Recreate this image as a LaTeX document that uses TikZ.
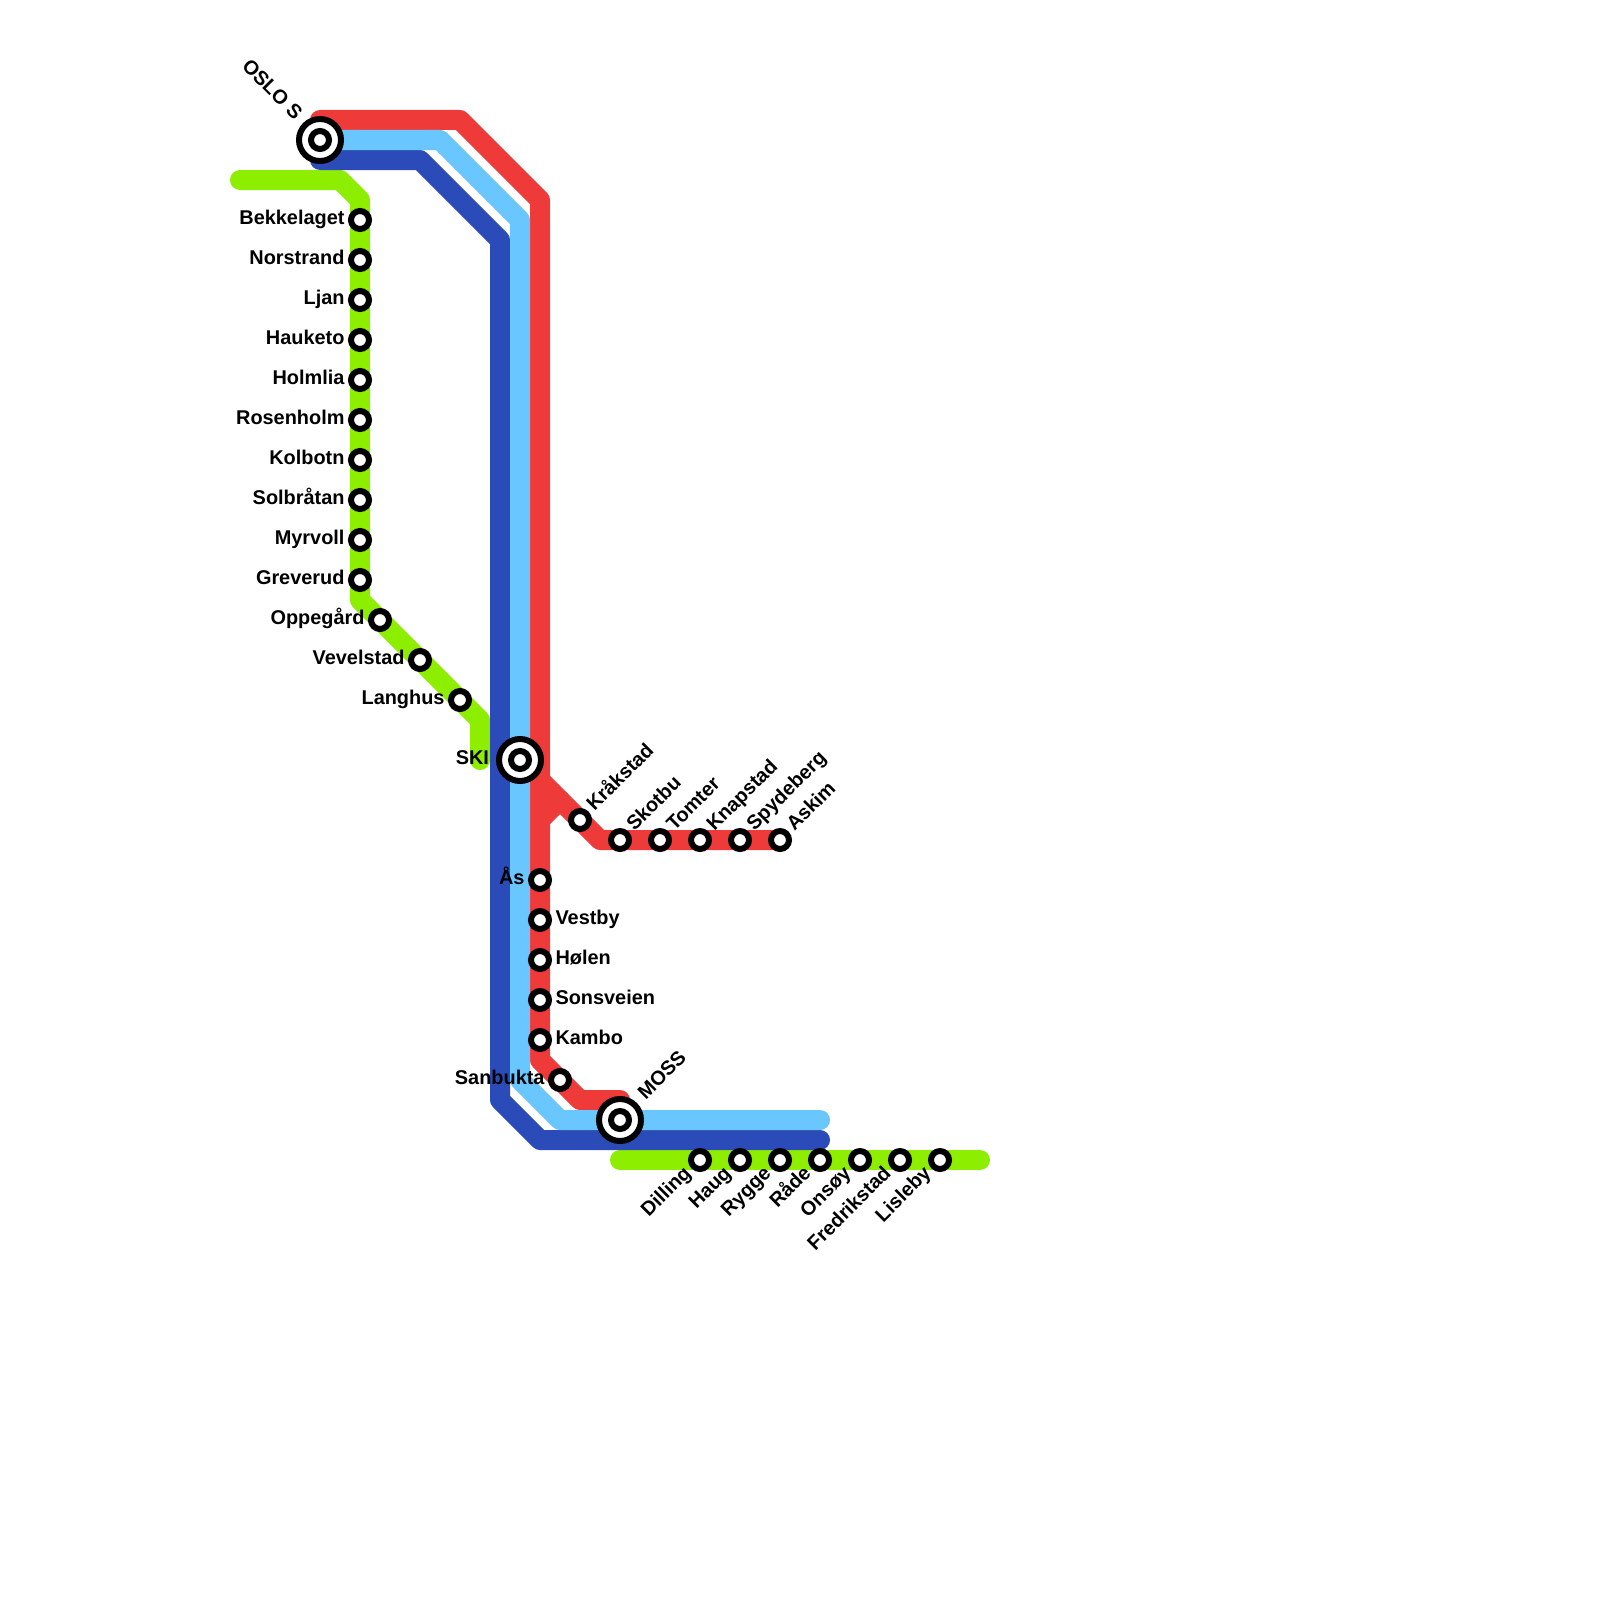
\documentclass[tikz,border=0pt]{standalone}
\usepackage{fontspec}
\setmainfont{Liberation Sans}[BoldFont={Liberation Sans Bold}]
\usetikzlibrary{backgrounds}
\definecolor{mred}{RGB}{239,58,58}
\definecolor{mcyan}{RGB}{105,198,255}
\definecolor{mblue}{RGB}{43,76,184}
\definecolor{mgreen}{RGB}{142,238,0}
\tikzset{
  metro/.style={line width=20pt,line cap=round,line join=round},
  stn/.style={circle,draw=black,fill=white,line width=6pt,minimum size=18pt,inner sep=0pt,outer sep=0pt},
  hub/.style={circle,draw=black,fill=white,line width=6pt,minimum size=42pt,inner sep=0pt,outer sep=0pt},
  lab/.style={font=\fontsize{19.9pt}{22pt}\selectfont\bfseries,inner sep=0pt,outer sep=0pt,text=black},
  labL/.style={lab,anchor=base east,xshift=-15.5pt,yshift=-4.7pt},
  labR/.style={lab,anchor=base west,xshift=15.5pt,yshift=-4.7pt},
  labUR/.style={lab,anchor=base west,xshift=14.5pt,yshift=8.1pt,rotate=45},
  labDL/.style={lab,anchor=base east,xshift=-8.1pt,yshift=-14.5pt,rotate=45},
}
\begin{document}
\begin{tikzpicture}[x=1pt,y=-1pt]
\useasboundingbox (0,0) rectangle (1600,1600);
% route bends
\coordinate (r0) at (320,120); \coordinate (r1) at (460,120); \coordinate (r2) at (540,200);
\coordinate (r3) at (540,1060); \coordinate (r4) at (580,1100); \coordinate (r5) at (620,1100);
\coordinate (r6) at (540,780); \coordinate (r7) at (600,840);
\coordinate (r8) at (540,820); \coordinate (r9) at (560,800);
\coordinate (c1) at (440,140); \coordinate (c2) at (520,220); \coordinate (c3) at (520,1080);
\coordinate (c4) at (560,1120); \coordinate (c5) at (820,1120);
\coordinate (b0) at (320,160); \coordinate (b1) at (420,160); \coordinate (b2) at (500,240);
\coordinate (b3) at (500,1100); \coordinate (b4) at (540,1140); \coordinate (b5) at (820,1140);
\coordinate (g0) at (240,180); \coordinate (g1) at (340,180); \coordinate (g2) at (360,200);
\coordinate (g3) at (360,600); \coordinate (g4) at (480,720); \coordinate (g5) at (480,760);
\coordinate (h0) at (620,1160); \coordinate (h1) at (980,1160);
% stations
\node[hub] (oslo) at (320,140) {}; \node[stn] (osloin) at (oslo.center) {};
\node[hub] (ski) at (520,760) {}; \node[stn] (skiin) at (ski.center) {};
\node[hub] (moss) at (620,1120) {}; \node[stn] (mossin) at (moss.center) {};
\node[stn] (bekkelaget) at (360,220) {};
\node[stn] (norstrand) at (360,260) {};
\node[stn] (ljan) at (360,300) {};
\node[stn] (hauketo) at (360,340) {};
\node[stn] (holmlia) at (360,380) {};
\node[stn] (rosenholm) at (360,420) {};
\node[stn] (kolbotn) at (360,460) {};
\node[stn] (solbratan) at (360,500) {};
\node[stn] (myrvoll) at (360,540) {};
\node[stn] (greverud) at (360,580) {};
\node[stn] (oppegard) at (380,620) {};
\node[stn] (vevelstad) at (420,660) {};
\node[stn] (langhus) at (460,700) {};
\node[stn] (krakstad) at (580,820) {};
\node[stn] (skotbu) at (620,840) {};
\node[stn] (tomter) at (660,840) {};
\node[stn] (knapstad) at (700,840) {};
\node[stn] (spydeberg) at (740,840) {};
\node[stn] (askim) at (780,840) {};
\node[stn] (aas) at (540,880) {};
\node[stn] (vestby) at (540,920) {};
\node[stn] (holen) at (540,960) {};
\node[stn] (sonsveien) at (540,1000) {};
\node[stn] (kambo) at (540,1040) {};
\node[stn] (sanbukta) at (560,1080) {};
\node[stn] (dilling) at (700,1160) {};
\node[stn] (haug) at (740,1160) {};
\node[stn] (rygge) at (780,1160) {};
\node[stn] (rade) at (820,1160) {};
\node[stn] (onsoy) at (860,1160) {};
\node[stn] (fredrikstad) at (900,1160) {};
\node[stn] (lisleby) at (940,1160) {};
% lines
\begin{scope}[on background layer]
\fill[white] (0,0) rectangle (1600,1600);
\draw[metro,mgreen] (g0) -- (g1) -- (g2) -- (bekkelaget.center) -- (greverud.center) -- (g3) -- (oppegard.center) -- (vevelstad.center) -- (langhus.center) -- (g4) -- (g5);
\draw[metro,mgreen] (h0) -- (dilling.center) -- (lisleby.center) -- (h1);
\draw[metro,mred] (r0) -- (r1) -- (r2) -- (aas.center) -- (kambo.center) -- (r3) -- (sanbukta.center) -- (r4) -- (r5);
\draw[metro,mred] (r6) -- (krakstad.center) -- (r7) -- (skotbu.center) -- (askim.center);
\draw[metro,mred] (r8) -- (r9);
\draw[metro,mblue] (b0) -- (b1) -- (b2) -- (b3) -- (b4) -- (b5);
\draw[metro,mcyan] (oslo.center) -- (c1) -- (c2) -- (ski.center) -- (c3) -- (c4) -- (moss.center) -- (c5);
\end{scope}
% labels
\node[lab,anchor=base east,xshift=-25.8pt,yshift=19.4pt,rotate=-45] (toslo) at (oslo.center) {OSLO S};
\node[labL] (tbek) at (bekkelaget.center) {Bekkelaget};
\node[labL] (tnor) at (norstrand.center) {Norstrand};
\node[labL] (tlja) at (ljan.center) {Ljan};
\node[labL] (thau) at (hauketo.center) {Hauketo};
\node[labL] (thol) at (holmlia.center) {Holmlia};
\node[labL] (tros) at (rosenholm.center) {Rosenholm};
\node[labL] (tkol) at (kolbotn.center) {Kolbotn};
\node[labL] (tsol) at (solbratan.center) {Solbråtan};
\node[labL] (tmyr) at (myrvoll.center) {Myrvoll};
\node[labL] (tgre) at (greverud.center) {Greverud};
\node[labL] (topp) at (oppegard.center) {Oppegård};
\node[labL] (tvev) at (vevelstad.center) {Vevelstad};
\node[labL] (tlan) at (langhus.center) {Langhus};
\node[lab,anchor=base east,xshift=-31pt,yshift=-4.7pt] (tski) at (ski.center) {SKI};
\node[labUR] (tkra) at (krakstad.center) {Kråkstad};
\node[labUR] (tsko) at (skotbu.center) {Skotbu};
\node[labUR] (ttom) at (tomter.center) {Tomter};
\node[labUR] (tkna) at (knapstad.center) {Knapstad};
\node[labUR] (tspy) at (spydeberg.center) {Spydeberg};
\node[labUR] (task) at (askim.center) {Askim};
\node[labL] (taas) at (aas.center) {Ås};
\node[labR] (tves) at (vestby.center) {Vestby};
\node[labR] (thoe) at (holen.center) {Hølen};
\node[labR] (tson) at (sonsveien.center) {Sonsveien};
\node[labR] (tkam) at (kambo.center) {Kambo};
\node[labL] (tsan) at (sanbukta.center) {Sanbukta};
\node[lab,anchor=base west,xshift=25.8pt,yshift=19.4pt,rotate=45] (tmoss) at (moss.center) {MOSS};
\node[labDL] (tdil) at (dilling.center) {Dilling};
\node[labDL] (thag) at (haug.center) {Haug};
\node[labDL] (tryg) at (rygge.center) {Rygge};
\node[labDL] (trad) at (rade.center) {Råde};
\node[labDL] (tons) at (onsoy.center) {Onsøy};
\node[labDL] (tfre) at (fredrikstad.center) {Fredrikstad};
\node[labDL] (tlis) at (lisleby.center) {Lisleby};
\end{tikzpicture}
\end{document}
